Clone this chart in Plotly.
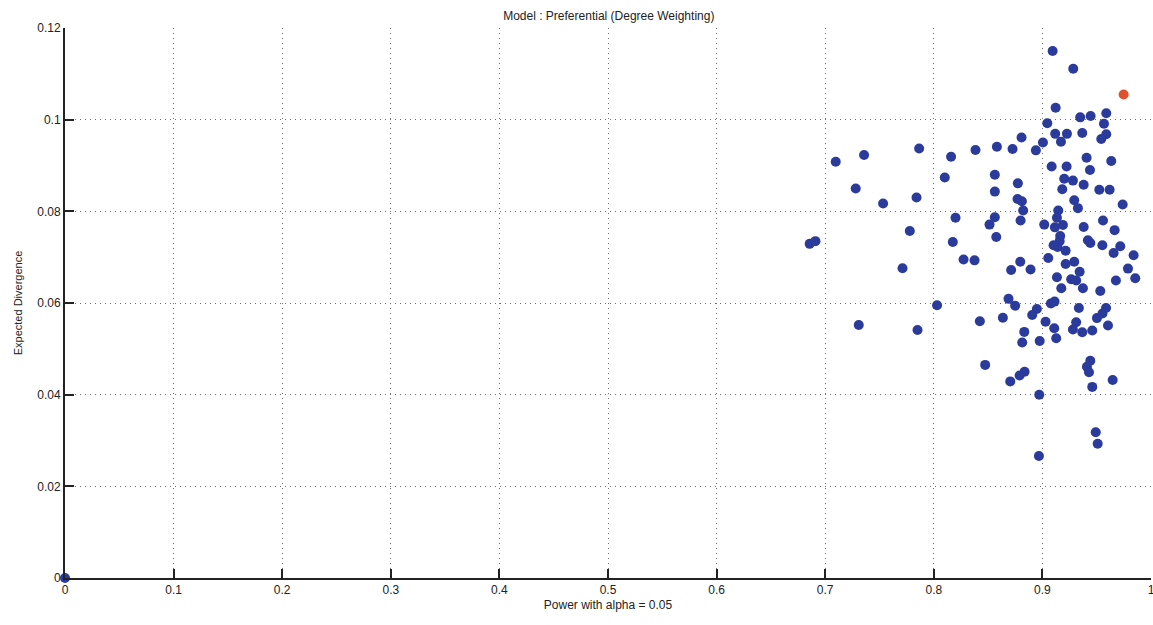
import plotly.graph_objects as go

# Power (x) and Expected Divergence (y) for the simulated runs
power = [
    0.0,
    0.6857, 0.6910, 0.7097, 0.7358, 0.7865, 0.8159, 0.8101, 0.7281, 0.7533, 0.7841,
    0.8200, 0.7779, 0.8175, 0.8274, 0.8375, 0.7712, 0.8030, 0.7309, 0.7850, 0.9094,
    0.9284, 0.9122, 0.9348, 0.9444, 0.9588, 0.9045, 0.9567, 0.9118, 0.9226,
    0.9367, 0.9588, 0.9542, 0.8808, 0.9005, 0.9171, 0.8384, 0.8581, 0.8725, 0.8940,
    0.9407, 0.9634, 0.9085, 0.9223, 0.9438, 0.8562, 0.8774, 0.9201, 0.9281, 0.9380,
    0.8562, 0.9183, 0.9524, 0.9619, 0.8771, 0.8811, 0.9293, 0.9327, 0.9739, 0.8823,
    0.9146, 0.8562, 0.9134, 0.8513, 0.8799, 0.9017, 0.9115, 0.9189, 0.9380, 0.9558,
    0.9665, 0.8575, 0.9164, 0.9159, 0.9419, 0.9441, 0.9103, 0.9140, 0.9552, 0.9717,
    0.9214, 0.9656, 0.9840, 0.9054, 0.8796, 0.8712, 0.8891, 0.9214, 0.9293, 0.9343,
    0.9788, 0.9134, 0.9265, 0.9311, 0.9855, 0.9677, 0.9174, 0.9373, 0.9533, 0.8688,
    0.8749, 0.9078, 0.9112, 0.8949, 0.8906, 0.9336, 0.9586, 0.9553, 0.9502, 0.8424,
    0.8636, 0.9029, 0.9311, 0.9109, 0.9281, 0.9367, 0.9459, 0.9604, 0.8833, 0.8814,
    0.8975, 0.9127, 0.8473, 0.9441, 0.9410, 0.9429, 0.8836, 0.8790, 0.8704, 0.9647,
    0.9459, 0.8971, 0.9491, 0.9509, 0.8968,
]
divergence = [
    0.0,
    0.0729, 0.0735, 0.0908, 0.0923, 0.0937, 0.0919, 0.0874, 0.0850, 0.0817, 0.0830,
    0.0786, 0.0757, 0.0733, 0.0695, 0.0693, 0.0676, 0.0595, 0.0552, 0.0541, 0.1150,
    0.1111, 0.1026, 0.1005, 0.1008, 0.1014, 0.0992, 0.0991, 0.0969, 0.0969,
    0.0971, 0.0968, 0.0958, 0.0961, 0.0950, 0.0952, 0.0934, 0.0941, 0.0936, 0.0933,
    0.0917, 0.0910, 0.0898, 0.0898, 0.0890, 0.0880, 0.0861, 0.0871, 0.0867, 0.0858,
    0.0843, 0.0848, 0.0847, 0.0847, 0.0827, 0.0822, 0.0824, 0.0807, 0.0815, 0.0802,
    0.0802, 0.0787, 0.0786, 0.0771, 0.0780, 0.0771, 0.0765, 0.0770, 0.0766, 0.0780,
    0.0759, 0.0744, 0.0746, 0.0735, 0.0737, 0.0731, 0.0726, 0.0722, 0.0726, 0.0724,
    0.0714, 0.0709, 0.0704, 0.0698, 0.0690, 0.0672, 0.0673, 0.0685, 0.0690, 0.0668,
    0.0675, 0.0656, 0.0652, 0.0649, 0.0654, 0.0649, 0.0632, 0.0632, 0.0626, 0.0609,
    0.0594, 0.0599, 0.0603, 0.0587, 0.0574, 0.0589, 0.0589, 0.0577, 0.0567, 0.0560,
    0.0568, 0.0559, 0.0558, 0.0545, 0.0542, 0.0536, 0.0540, 0.0551, 0.0537, 0.0514,
    0.0517, 0.0523, 0.0465, 0.0474, 0.0461, 0.0449, 0.0450, 0.0442, 0.0429, 0.0432,
    0.0417, 0.0400, 0.0318, 0.0293, 0.0266,
]

# Highlighted (selected) run
best_power = [0.9748]
best_divergence = [0.1055]

x_ticks = [0, 0.1, 0.2, 0.3, 0.4, 0.5, 0.6, 0.7, 0.8, 0.9, 1.0]
x_labels = ["0", "0.1", "0.2", "0.3", "0.4", "0.5", "0.6", "0.7", "0.8", "0.9", "1"]
y_ticks = [0, 0.02, 0.04, 0.06, 0.08, 0.10, 0.12]
y_labels = ["0", "0.02", "0.04", "0.06", "0.08", "0.1", "0.12"]

FONT = "Liberation Sans, Arial, sans-serif"
GRID_DASH = "1px,4px"

fig = go.Figure()
fig.add_trace(go.Scatter(
    x=power, y=divergence, mode="markers",
    marker=dict(color="#2b3b9c", size=10, line=dict(width=0)),
    cliponaxis=False, showlegend=False,
))
fig.add_trace(go.Scatter(
    x=best_power, y=best_divergence, mode="markers",
    marker=dict(color="#e0522e", size=10, line=dict(width=0)),
    cliponaxis=False, showlegend=False,
))

fig.update_layout(
    width=1153, height=625,
    margin=dict(l=65, r=2, t=28, b=47),
    paper_bgcolor="white", plot_bgcolor="white",
    font=dict(family=FONT, size=12, color="#222222"),
    title=dict(text="Model : Preferential (Degree Weighting)",
               x=0.528, xanchor="center", y=0.975, yanchor="middle",
               font=dict(size=12, color="#222222")),
)
fig.update_xaxes(
    range=[0, 1], tickvals=x_ticks, ticktext=x_labels,
    showline=True, linecolor="#222222", linewidth=2,
    ticks="inside", ticklen=9, tickwidth=1.5, tickcolor="#222222",
    showgrid=True, gridcolor="#6e6e6e", gridwidth=1, griddash=GRID_DASH,
    zeroline=False, ticklabeloverflow="allow", automargin=False,
    title=dict(text="Power with alpha = 0.05", font=dict(size=12, color="#222222"), standoff=4),
    tickfont=dict(size=12, color="#222222"),
)
fig.update_yaxes(
    range=[0, 0.12], tickvals=y_ticks, ticktext=y_labels,
    showline=True, linecolor="#222222", linewidth=2,
    ticks="inside", ticklen=9, tickwidth=1.5, tickcolor="#222222",
    showgrid=True, gridcolor="#6e6e6e", gridwidth=1, griddash=GRID_DASH,
    zeroline=False,
    title=dict(text="Expected Divergence", font=dict(size=11, color="#222222"), standoff=12),
    tickfont=dict(size=12, color="#222222"),
)

fig.write_html("out.html")
